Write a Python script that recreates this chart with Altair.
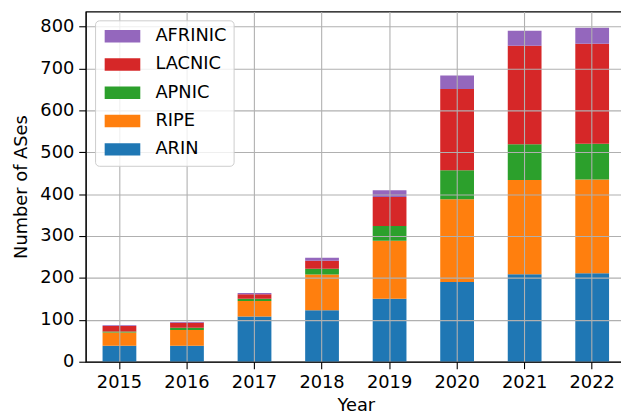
import altair as alt
import pandas as pd

years = ["2015", "2016", "2017", "2018", "2019", "2020", "2021", "2022"]
arin = [38, 38, 108, 123, 150, 190, 209, 211]
ripe = [32, 38, 37, 85, 139, 198, 225, 224]
apnic = [2, 5, 5, 14, 35, 69, 85, 85]
lacnic = [13, 12, 11, 19, 69, 194, 235, 239]
afrinic = [2, 2, 3, 7, 16, 32, 36, 38]

registries = ["ARIN", "RIPE", "APNIC", "LACNIC", "AFRINIC"]
series = [arin, ripe, apnic, lacnic, afrinic]
legend_order = ["AFRINIC", "LACNIC", "APNIC", "RIPE", "ARIN"]
legend_colors = ["#9467bd", "#d62728", "#2ca02c", "#ff7f0e", "#1f77b4"]

rows = []
for idx, (reg, vals) in enumerate(zip(registries, series)):
    for y, v in zip(years, vals):
        rows.append({"Year": y, "Registry": reg, "Count": v, "order": idx})
df = pd.DataFrame(rows)

FONT = "DejaVu Sans"
sym_path = "M-1,-1L4.714,-1L4.714,1L-1,1Z"

chart = alt.Chart(df).mark_bar().encode(
    x=alt.X("Year:N", sort=years,
            scale=alt.Scale(paddingInner=0.5, paddingOuter=0.25),
            axis=alt.Axis(title="Year", labelAngle=0, zindex=1, grid=True)),
    y=alt.Y("Count:Q", stack="zero",
            scale=alt.Scale(domain=[0, 836], nice=False),
            axis=alt.Axis(title="Number of ASes", values=[0, 100, 200, 300, 400, 500, 600, 700, 800],
                          zindex=1, grid=True)),
    color=alt.Color("Registry:N",
                    scale=alt.Scale(domain=legend_order, range=legend_colors),
                    legend=alt.Legend(orient="none", legendX=9.5, legendY=9, title=None,
                                      direction="vertical",
                                      symbolType=sym_path, symbolSize=158.76,
                                      symbolStrokeWidth=0, symbolOpacity=1,
                                      labelOffset=36, padding=7, rowPadding=10.6,
                                      labelFontSize=18, labelFont=FONT, labelColor="black",
                                      fillColor="rgba(255,255,255,0.8)", strokeColor="#cccccc",
                                      cornerRadius=4, zindex=2)),
    order=alt.Order("order:Q", sort="ascending"),
).properties(
    width=546,
    height=354,
    autosize=alt.AutoSizeParams(type="none"),
    padding={"left": 78.5, "top": 1.3, "right": -5, "bottom": 55},
).configure_axis(
    labelFont=FONT, titleFont=FONT, labelFontSize=18, titleFontSize=18,
    labelColor="black", titleColor="black", titleFontWeight="normal",
    domainColor="black", domainWidth=1.1, tickColor="black", tickWidth=1.1,
    tickSize=7, labelPadding=5, gridColor="#b0b0b0", gridWidth=1.1,
).configure_axisY(
    titlePadding=9,
).configure_axisX(
    titlePadding=5,
).configure_view(
    stroke="black", strokeWidth=1.1,
)

chart.save("out.html", embed_options={"renderer": "svg", "actions": False})
